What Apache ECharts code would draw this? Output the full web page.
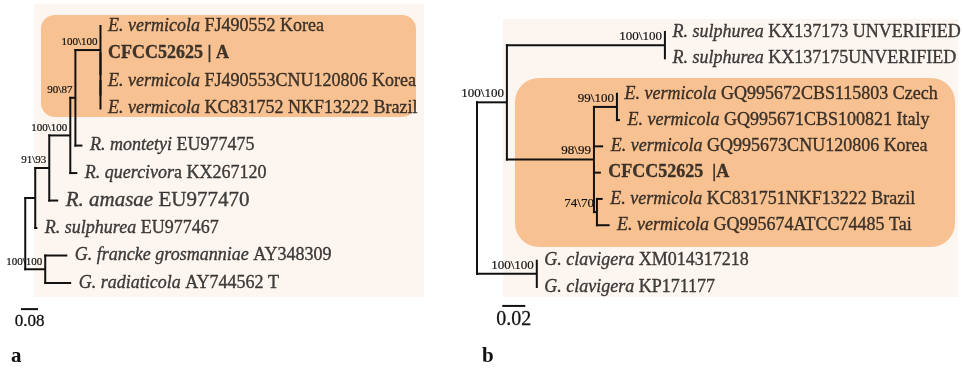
<!DOCTYPE html>
<html><head><meta charset="utf-8">
<script src="https://cdn.jsdelivr.net/npm/echarts@6/dist/echarts.min.js"></script>
<style>html,body{margin:0;padding:0;background:#fff}#c{width:964px;height:371px}</style>
</head><body><div id="c"></div>
<script>
// ================= Panel a data =================
const aLeafSpecies   = ['E. vermicola', '', 'E. vermicola', 'E. vermicola', 'R. montetyi', 'R. quercivor', 'R. amasae', 'R. sulphurea', 'G. francke grosmanniae', 'G. radiaticola'];
const aLeafAccession = [' FJ490552 Korea', 'CFCC52625 | A', ' FJ490553CNU120806 Korea', ' KC831752 NKF13222 Brazil', ' EU977475', 'a KX267120', ' EU977470', ' EU977467', ' AY348309', ' AY744562 T'];
const aLeafParent    = ['n5', 'n5b', 'n5c', 'n5c', 'n4', 'n3', 'n2', 'n1', 'nG', 'nG'];
const aLeafLength    = [0, 0, 0, 0, 0.033, 0.033, 0.042, 0.01, 0.104, 0.122];
const aNodeIds       = ['r', 'n1', 'n2', 'n3', 'n4', 'n5', 'n5b', 'n5c', 'nG'];
const aNodeParent    = [null, 'r', 'n1', 'n2', 'n3', 'n4', 'n5', 'n5b', 'r'];
const aNodeLength    = [0, 0.047, 0.066, 0.099, 0.024, 0.118, 0, 0, 0.094];
const aNodeSupport   = ['', '', '91\\93', '100\\100', '90\\87', '100\\100', '', '', '100\\100'];
const aHighlight     = [0, 3];
const aScaleValue    = 0.08;
const aScaleLabel    = '0.08';

// ================= Panel b data =================
const bLeafSpecies   = ['R. sulphurea', 'R. sulphurea', 'E. vermicola', 'E. vermicola', 'E. vermicola', '', 'E. vermicola', 'E. vermicola', 'G. clavigera', 'G. clavigera'];
const bLeafAccession = [' KX137173 UNVERIFIED', ' KX137175UNVERIFIED', ' GQ995672CBS115803 Czech', ' GQ995671CBS100821 Italy', ' GQ995673CNU120806 Korea', 'CFCC52625  |A', ' KC831751NKF13222 Brazil', ' GQ995674ATCC74485 Tai', ' XM014317218', ' KP171177'];
const bLeafParent    = ['m3', 'm3', 'm5', 'm5', 'm4', 'm4', 'm6', 'm6', 'mG', 'mG'];
const bLeafLength    = [0, 0, 0, 0.0026, 0.008, 0.006, 0.005, 0.011, 0, 0];
const bNodeIds       = ['r', 'm1', 'm3', 'm4', 'm5', 'm6', 'mG'];
const bNodeParent    = [null, 'r', 'm1', 'm1', 'm4', 'm4', 'r'];
const bNodeLength    = [0, 0.026, 0.1374, 0.0757, 0.020, 0.0026, 0.052];
const bNodeSupport   = ['', '100\\100', '100\\100', '98\\99', '99\\100', '74\\70', '100\\100'];
const bHighlight     = [2, 7];
const bScaleValue    = 0.02;
const bScaleLabel    = '0.02';

// ================= layout helpers =================
const FONT = '"Liberation Serif", "Times New Roman", serif';
const INK = '#111111';
const TB = 0.35; // slight stroke to match the heavier print text

function buildTree(leafParent, leafLen, nodeIds, nodeParent, nodeLen, nodeSupport, highlight, gap) {
  const nodes = {};
  nodeIds.forEach((id, i) => nodes[id] = {id, parent: nodeParent[i], len: nodeLen[i], support: nodeSupport[i], children: [], leaf: false});
  const leaves = leafParent.map((p, i) => {
    const n = {id: 'L' + i, parent: p, len: leafLen[i], support: '', children: [], leaf: true, idx: i};
    nodes[n.id] = n; return n;
  });
  Object.values(nodes).forEach(n => { if (n.parent) nodes[n.parent].children.push(n); });
  const root = Object.values(nodes).find(n => !n.parent);
  (function setX(n, x) { n.x = x; n.children.forEach(c => { c.px = x; setX(c, x + c.len); }); })(root, 0);
  root.px = 0;
  leaves.forEach((l, i) => {
    let r = i;
    if (highlight[0] > 0 && i >= highlight[0]) r += gap;
    if (i > highlight[1]) r += gap;
    l.y = r;
  });
  (function setY(n) {
    if (n.leaf) return n.y;
    const ys = n.children.map(setY);
    n.minY = Math.min(...ys); n.maxY = Math.max(...ys);
    n.y = (n.minY + n.maxY) / 2;
    return n.y;
  })(root);
  return {list: Object.values(nodes), leaves};
}

const treeA = buildTree(aLeafParent, aLeafLength, aNodeIds, aNodeParent, aNodeLength, aNodeSupport, aHighlight, 0.35);
const treeB = buildTree(bLeafParent, bLeafLength, bNodeIds, bNodeParent, bNodeLength, bNodeSupport, bHighlight, 0.35);

function branchSeries(tree, gi, supportSize) {
  return {
    type: 'custom', xAxisIndex: gi, yAxisIndex: gi, clip: false, silent: true, z: 5,
    data: tree.list.map((n, i) => [n.x, n.y, i]),
    renderItem: function (params, api) {
      const n = tree.list[params.dataIndex];
      const els = [];
      const p = api.coord([n.x, n.y]);
      const lineStyle = {stroke: INK, lineWidth: 2};
      if (n.parent && n.len > 0) {
        const q = api.coord([n.px, n.y]);
        els.push({type: 'line', shape: {x1: q[0] - 1, y1: p[1], x2: p[0], y2: p[1]}, style: lineStyle});
      }
      if (!n.leaf) {
        const a = api.coord([n.x, n.minY]), b = api.coord([n.x, n.maxY]);
        els.push({type: 'line', shape: {x1: p[0], y1: a[1] - 1, x2: p[0], y2: b[1] + 1}, style: lineStyle});
      }
      if (n.support) {
        els.push({type: 'text', x: p[0] - 3, y: p[1] - 2,
          style: {text: n.support, fill: INK, fontSize: supportSize, fontFamily: FONT, align: 'right', verticalAlign: 'bottom',
                  stroke: INK, lineWidth: 0.2}});
      }
      return {type: 'group', children: els};
    }
  };
}

function leafSeries(tree, gi, species, acc) {
  const big = {'R. amasae': true};
  const base = {fontFamily: FONT, color: INK, textBorderColor: INK, textBorderWidth: TB};
  return {
    type: 'scatter', xAxisIndex: gi, yAxisIndex: gi, silent: true, z: 6,
    symbolSize: 1, itemStyle: {color: 'rgba(0,0,0,0)'},
    data: tree.leaves.map(l => [l.x, l.y]),
    label: {
      show: true, position: 'right', distance: 7, color: INK, fontFamily: FONT, fontSize: 18,
      formatter: function (p) {
        const sp = species[p.dataIndex], ac = acc[p.dataIndex];
        if (!sp) return '{b|' + ac + '}';
        const B = big[sp];
        return '{' + (B ? 'I' : 'i') + '|' + sp + '}{' + (B ? 'N' : 'n') + '|' + ac + '}';
      },
      rich: {
        i: Object.assign({fontStyle: 'italic', fontSize: 18}, base),
        n: Object.assign({fontSize: 18}, base),
        b: Object.assign({fontWeight: 'bold', fontSize: 18}, base),
        I: Object.assign({fontStyle: 'italic', fontSize: 21}, base),
        N: Object.assign({fontSize: 21}, base)
      }
    },
    labelLayout: {hideOverlap: false}
  };
}

function scaleSeries(gi, x0, value, row, label, fontSize) {
  return {
    type: 'custom', xAxisIndex: gi, yAxisIndex: gi, clip: false, silent: true, z: 5,
    data: [[x0, row, value]],
    renderItem: function (params, api) {
      const a = api.coord([api.value(0), api.value(1)]);
      const b = api.coord([api.value(0) + api.value(2), api.value(1)]);
      return {type: 'group', children: [
        {type: 'line', shape: {x1: a[0], y1: a[1], x2: b[0], y2: b[1]}, style: {stroke: INK, lineWidth: 2}},
        {type: 'text', x: (a[0] + b[0]) / 2, y: a[1] + 4,
          style: {text: label, fill: INK, fontSize: fontSize, fontFamily: FONT, align: 'center', verticalAlign: 'top', stroke: INK, lineWidth: 0.3}}
      ]};
    }
  };
}

// pixel geometry
const aUnitY = (283 - 26) / 9.35, bUnitY = (287 - 32) / 9.7;
const chart = echarts.init(document.getElementById('c'), null, {renderer: 'canvas'});
chart.setOption({
  animation: false,
  backgroundColor: '#ffffff',
  grid: [
    {left: 4, top: 26, width: 421, height: 11.5 * aUnitY},
    {left: 477, top: 32, width: 460, height: 11.5 * bUnitY}
  ],
  xAxis: [
    {type: 'value', gridIndex: 0, min: -0.1, max: -0.1 + 421 / 212.5, show: false},
    {type: 'value', gridIndex: 1, min: 0, max: 0.4, show: false}
  ],
  yAxis: [
    {type: 'value', gridIndex: 0, min: 0, max: 11.5, inverse: true, show: false},
    {type: 'value', gridIndex: 1, min: 0, max: 11.5, inverse: true, show: false}
  ],
  graphic: [
    {type: 'rect', z: 0, silent: true, shape: {x: 34, y: 4, width: 390, height: 293}, style: {fill: '#FDF5EF'}},
    {type: 'rect', z: 0, silent: true, shape: {x: 503, y: 19, width: 455, height: 278}, style: {fill: '#FDF5EF'}},
    {type: 'rect', z: 1, silent: true, shape: {x: 41, y: 15, width: 375, height: 102, r: 14}, style: {fill: '#F8C191'}},
    {type: 'rect', z: 1, silent: true, shape: {x: 515, y: 78, width: 440, height: 169, r: 24}, style: {fill: '#F8C191'}},
    {type: 'text', z: 3, silent: true, x: 11, y: 357, style: {text: 'a', fontSize: 21, fontWeight: 'bold', fontFamily: FONT, fill: INK, verticalAlign: 'middle'}},
    {type: 'text', z: 3, silent: true, x: 482, y: 357, style: {text: 'b', fontSize: 21, fontWeight: 'bold', fontFamily: FONT, fill: INK, verticalAlign: 'middle'}}
  ],
  series: [
    branchSeries(treeA, 0, 11),
    leafSeries(treeA, 0, aLeafSpecies, aLeafAccession),
    scaleSeries(0, -0.02, aScaleValue, 10.3, aScaleLabel, 17),
    branchSeries(treeB, 1, 13),
    leafSeries(treeB, 1, bLeafSpecies, bLeafAccession),
    scaleSeries(1, 0.022, bScaleValue, 10.42, bScaleLabel, 20)
  ]
});
</script></body></html>
